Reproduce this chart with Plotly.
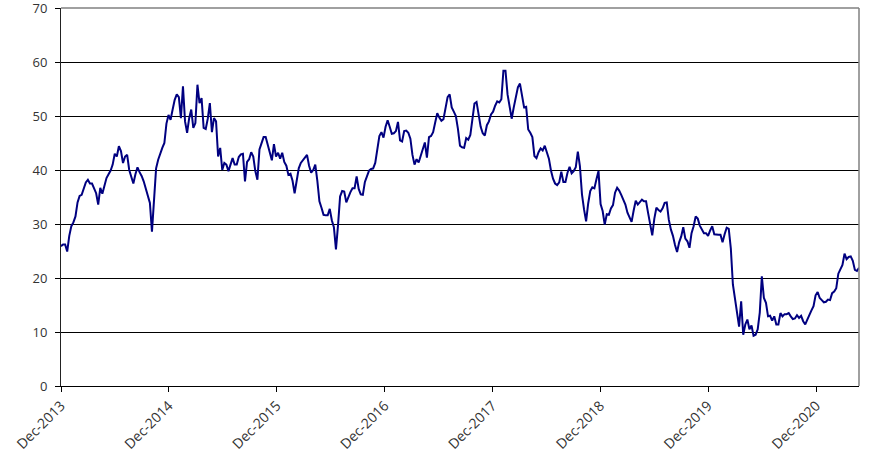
import pandas as pd
import plotly.graph_objects as go

# Weekly readings, starting at the Dec-2013 tick
start_date = "2013-12-31"

values_2014 = [
    25.9, 26.2, 26.2, 24.9, 27.8, 29.6, 30.3, 31.4, 34.0, 35.2,
    35.4, 36.6, 37.7, 38.2, 37.5, 37.5, 36.4, 35.7, 33.6, 36.7,
    35.6, 37.0, 38.5, 39.2, 39.9, 41.0, 43.0, 42.5, 44.4, 43.5,
    41.3, 42.5, 42.8, 40.0, 38.7, 37.5, 39.2, 40.5, 39.6, 38.9,
    37.9, 36.5, 35.5, 33.9, 28.6, 35.0, 40.3, 41.9, 43.1, 44.1,
    45.0, 48.6, 50.2, 49.3, 51.2, 53.0, 54.0, 53.5, 49.6, 55.5,
    49.0, 46.9, 49.6, 51.2, 47.8, 48.7, 55.8, 52.4, 53.3, 47.8,
    47.6, 49.5, 52.4, 47.0, 49.6, 49.0, 42.5, 44.1,
]

values_2015 = [
    40.0, 41.3, 41.0, 39.8, 41.0, 42.2, 41.0, 41.0, 42.4, 42.9,
    43.0, 37.9, 41.5, 42.0, 43.3, 42.5, 39.8, 38.2, 43.8, 45.2,
    46.1, 46.1, 44.7, 42.9, 41.8, 44.8, 42.5, 43.2, 42.1, 43.2,
    41.5, 40.8, 39.1, 39.3, 38.0, 35.7, 38.5, 40.3, 41.3, 41.8,
    42.5, 42.8, 40.8, 39.5, 40.0, 41.0, 38.0, 34.2, 33.0, 31.7,
    31.6, 31.6, 32.8, 30.7, 29.4, 25.3, 29.8, 35.1, 36.1, 36.0,
    34.0, 35.1, 35.9, 36.6, 36.6, 38.8, 36.5, 35.5, 35.4, 37.8,
    38.7, 39.9, 40.2, 40.3, 41.3,
]

values_2017 = [
    43.5, 46.3, 47.0, 46.0, 48.0, 49.2, 48.0, 46.7, 46.8, 47.2,
    48.9, 45.5, 45.3, 47.2, 47.3, 46.9, 45.8, 42.8, 41.0, 42.0,
    41.4, 42.6, 43.7, 45.1, 42.3, 46.1, 46.3, 47.0, 48.8, 50.5,
    49.7, 49.1, 49.4, 51.8, 53.5, 54.0, 51.6, 50.8, 50.0, 47.6,
    44.5, 44.2, 44.1, 45.9, 45.6, 46.5, 49.5, 52.3, 52.6, 50.3,
    48.0, 46.8, 46.4, 48.3, 49.0, 50.3, 50.8, 51.9, 52.7, 52.5,
    53.1, 58.4, 58.4, 54.0, 51.5, 49.5, 51.6, 53.6, 55.3, 56.0,
    54.0, 51.6, 51.7, 47.5, 46.9,
]

values_2018 = [
    46.1, 42.6, 42.2, 43.3, 44.0, 43.6, 44.5, 43.3, 42.1, 39.9,
    38.4, 37.5, 37.2, 37.7, 39.7, 37.8, 37.8, 39.5, 40.6, 39.4,
    39.8, 40.5, 43.4, 40.7, 35.5, 32.7, 30.5, 33.8, 36.1, 36.8,
    36.6, 38.3, 39.8, 33.7, 32.4, 29.9, 31.8, 31.7, 32.9, 33.5,
    35.8, 36.7, 36.2, 35.4, 34.4, 33.6, 32.1, 31.1, 30.4, 32.5,
    34.3, 33.6, 34.0, 34.5, 34.2, 34.2, 32.0, 29.6, 27.9, 31.0,
    33.0, 32.6, 32.3, 32.9, 33.9, 34.0, 30.8, 29.0, 27.8, 26.1,
    24.8, 26.6, 27.7, 29.4, 27.3,
]

values_2020 = [
    26.8, 25.6, 28.3, 29.6, 31.4, 31.0, 29.7, 28.9, 28.3, 28.3,
    27.8, 28.8, 29.6, 28.1, 28.0, 28.0, 28.0, 26.6, 28.1, 29.3,
    29.1, 25.5, 18.8, 16.0, 13.5, 11.0, 15.7, 9.5, 11.4, 12.3,
    10.5, 11.2, 9.3, 9.5, 10.5, 13.6, 20.3, 16.3, 15.4, 12.9,
    13.0, 12.1, 12.9, 11.4, 11.4, 13.5, 12.9, 13.3, 13.3, 13.5,
    12.9, 12.4, 12.5, 13.1, 12.6, 13.0, 12.0, 11.4, 12.3, 13.3,
    14.0, 14.8, 16.8, 17.4, 16.3, 15.9, 15.5, 15.6, 16.0, 15.9,
    17.2, 17.5, 18.1, 20.8, 21.6, 22.4, 24.5, 23.5, 23.9, 24.0,
    23.2, 21.5, 21.3, 21.9,
]

tick_dates = ["2013-12-31", "2014-12-31", "2015-12-31", "2016-12-31",
              "2017-12-31", "2018-12-31", "2019-12-31", "2020-12-31"]
tick_labels = ["Dec-2013", "Dec-2014", "Dec-2015", "Dec-2016",
               "Dec-2017", "Dec-2018", "Dec-2019", "Dec-2020"]
y_ticks = [0, 10, 20, 30, 40, 50, 60, 70]

values = values_2014 + values_2015 + values_2017 + values_2018 + values_2020
dates = pd.date_range(start_date, periods=len(values), freq="7D")

fig = go.Figure()
fig.add_trace(go.Scatter(
    x=dates, y=values, mode="lines",
    line=dict(color="#000080", width=2),
    hoverinfo="x+y",
))

fig.update_layout(
    width=883, height=459,
    margin=dict(l=61, r=24, t=8, b=73, autoexpand=False),
    plot_bgcolor="white", paper_bgcolor="white",
    showlegend=False,
    font=dict(family="Open Sans", size=13, color="#333333"),
    xaxis=dict(
        type="date",
        range=[dates[0], dates[-1]],
        tickvals=tick_dates, ticktext=tick_labels,
        tickangle=-45,
        tickfont=dict(size=14),
        ticks="outside", ticklen=5, tickcolor="#000000",
        showline=True, linecolor="#000000", linewidth=1,
        showgrid=False, zeroline=False,
        ticklabeloverflow="allow",
    ),
    yaxis=dict(
        range=[0, 70], tickvals=y_ticks,
        ticks="outside", ticklen=5, tickcolor="#000000",
        showline=True, linecolor="#222222", linewidth=1,
        showgrid=True, gridcolor="#000000", gridwidth=1,
        zeroline=False,
        ticklabelstandoff=5,
        ticklabeloverflow="allow",
    ),
    shapes=[
        dict(type="line", xref="paper", yref="paper", x0=0, x1=1, y0=1, y1=1,
             layer="above", line=dict(color="#808080", width=1.5)),
        dict(type="line", xref="paper", yref="paper", x0=1, x1=1, y0=0, y1=1,
             layer="above", line=dict(color="#808080", width=1.5)),
    ],
)

fig.write_html(
    "out.html",
    config={"displayModeBar": False},
    post_script="document.body.style.margin='0px';",
)
